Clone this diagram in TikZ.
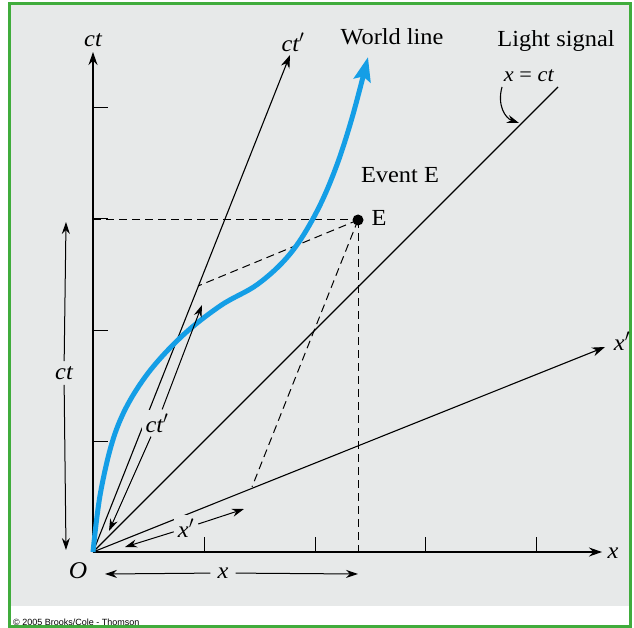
\documentclass[tikz,border=0pt]{standalone}
\usepackage{fontspec}
\setmainfont{Liberation Serif}[FakeStretch=1.06]
\setsansfont{Liberation Sans}
\usetikzlibrary{arrows.meta}
\definecolor{bggray}{RGB}{231,233,233}
\definecolor{framegreen}{RGB}{64,172,60}
\definecolor{wlblue}{RGB}{20,158,230}
\begin{document}
\begin{tikzpicture}[x=1pt,y=-1pt,
  axis/.style={line width=1.1pt,-{Stealth[length=13pt,width=9pt]}},
  plain/.style={line width=1.1pt},
  dsh/.style={line width=1pt,dash pattern=on 8pt off 5pt},
  dim/.style={line width=1pt,-{Stealth[length=12pt,width=8pt]}},
  lab/.style={font=\fontsize{23}{24}\selectfont\itshape,inner sep=1pt},
  dlab/.style={font=\fontsize{23}{24}\selectfont\itshape,fill=bggray,inner sep=5pt},
  txt/.style={font=\fontsize{23}{26}\selectfont,inner sep=0pt,anchor=base},
  tickmark/.style={line width=1pt}]
\useasboundingbox (0,0) rectangle (634,628);
\fill[white] (0,0) rectangle (634,628);
\fill[bggray] (10,5) rectangle (629,606);
\draw[framegreen,line width=3pt] (9,3.5) rectangle (630.5,626.5);
% key points
\coordinate (O) at (93,552);
\coordinate (ctT) at (93,52);
\coordinate (xT) at (602,552);
\coordinate (ctpT) at (290,55);
\coordinate (xpT) at (605,347);
\coordinate (lightT) at (558,87);
\coordinate (ctE) at (93,220);
\coordinate (xE) at (358,552);
\coordinate (ctpE) at (198,286);
\coordinate (xpE) at (252,487);
% axes
\draw[axis] (O) -- (ctT);
\draw[axis] (O) -- (xT);
\draw[axis] (O) -- (ctpT);
\draw[axis] (O) -- (xpT);
\draw[plain] (O) -- (lightT);
% ticks
\foreach \yy in {441,330,219,108} \draw[tickmark] (93,\yy) -- (108,\yy);
\foreach \xx in {204,315,425,536} \draw[tickmark] (\xx,552) -- (\xx,537);
% event
\node[circle,fill=black,inner sep=0pt,minimum size=11pt] (E) at (358,220) {};
\draw[dsh] (ctE) -- (E.center);
\draw[dsh] (E.center) -- (xE);
\draw[dsh] (E.center) -- (ctpE);
\draw[dsh] (E.center) -- (xpE);
% world line
\draw[wlblue,line width=5pt,-{Stealth[length=24pt,width=17pt,inset=4pt]}]
  plot[smooth,tension=0.6] coordinates {(93,552) (101,490) (117,428) (143,380) (180,338) (220,306) (258,284) (290,254) (315,215) (335,170) (352,118) (368,57)};
% dimension arrows
\node[dlab] (ctlab) at (64,373) {ct};
\coordinate (ctA) at (66,222);
\coordinate (ctB) at (66,550);
\draw[dim] (ctlab) -- (ctA);
\draw[dim] (ctlab) -- (ctB);
\node[dlab,inner sep=4pt] (ctplab) at (157,423) {ct$'$};
\coordinate (ctpA) at (202,305);
\coordinate (ctpB) at (109,531);
\draw[dim] (ctplab) -- (ctpA);
\draw[dim] (ctplab) -- (ctpB);
\node[dlab,inner sep=4pt] (xplab) at (186,528) {x$'$};
\coordinate (xpA) at (244,509);
\coordinate (xpB) at (125,547);
\draw[dim] (xplab) -- (xpA);
\draw[dim] (xplab) -- (xpB);
\node[dlab,inner sep=7pt] (xlab) at (223,573) {x};
\coordinate (xA) at (358,574);
\coordinate (xB) at (105,574);
\draw[dim] (xlab) -- (xA);
\draw[dim] (xlab) -- (xB);
% axis labels
\node[lab] (lct) at (93,40) {ct};
\node[lab] (lctp) at (293,42) {ct$'$};
\node[lab] (lx) at (613,553) {x};
\node[lab] (lxp) at (622,341) {x$'$};
\node[lab,font=\fontsize{24}{24}\selectfont\itshape] (lO) at (78,571) {O};
% texts
\node[txt] (twl) at (392,45) {World line};
\node[txt] (tls) at (556,47) {Light signal};
\node[txt,font=\fontsize{21}{24}\selectfont] (txct) at (529,82) {\textit{x} =\;\textit{ct}};
\node[txt] (tev) at (400,183) {Event E};
\node[txt] (tE) at (379,226) {E};
\coordinate (lsHit) at (519,123);
\draw[line width=1.1pt,-{Stealth[length=12pt,width=8pt]}] (502,87) .. controls (497,105) and (505,118) .. (lsHit);
\node[font=\sffamily\fontsize{9}{10}\selectfont,anchor=base west,inner sep=0pt] (copy) at (13,625) {\textcopyright{} 2005 Brooks/Cole - Thomson};
\end{tikzpicture}
\end{document}
